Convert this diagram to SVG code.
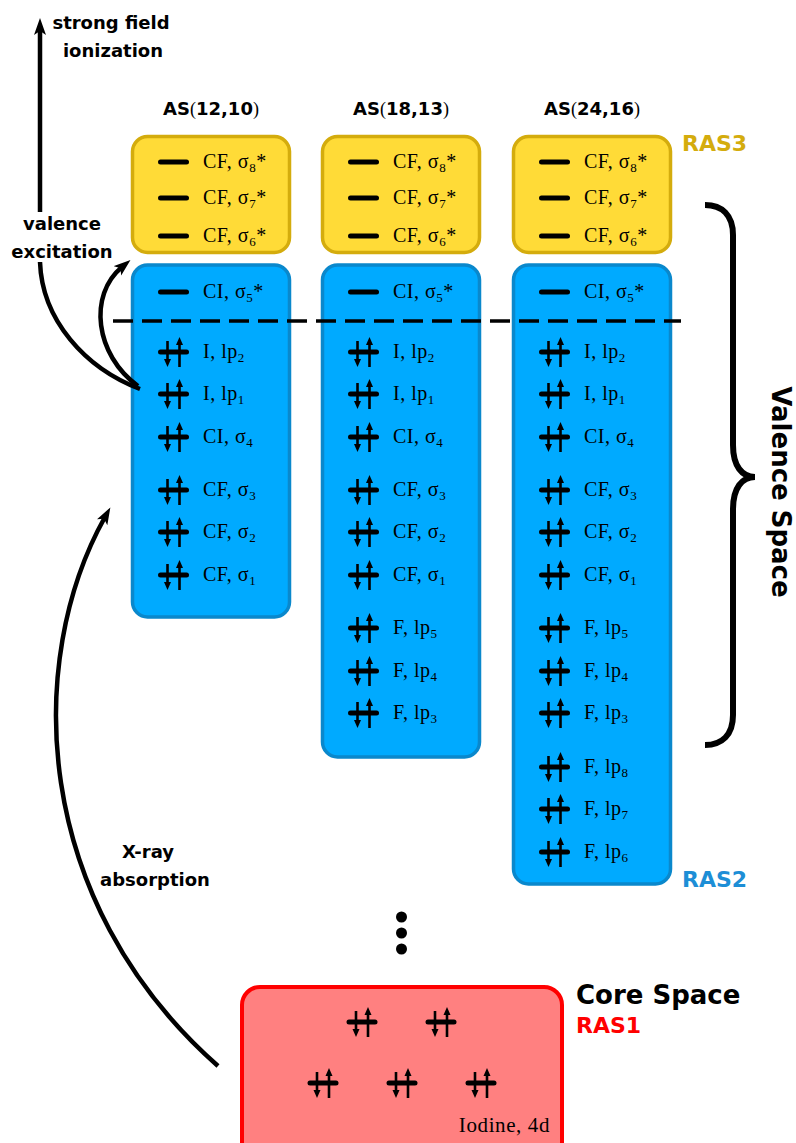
<svg xmlns="http://www.w3.org/2000/svg" xmlns:xlink="http://www.w3.org/1999/xlink" width="796" height="1143" viewBox="0 0 796 1143">
<style>
.ybox{fill:#FFDB37;stroke:#D4AC0D;stroke-width:3.5}
.bbox{fill:#00AAFF;stroke:#0A88CC;stroke-width:3.5}
.rbox{fill:#FF8080;stroke:#FF0000;stroke-width:4}
.lbl{font-family:"Liberation Serif",serif;font-size:20px;fill:#000;letter-spacing:0.5px}
.sub{font-size:13px}
.sans{font-family:"DejaVu Sans",sans-serif;font-weight:bold;fill:#000}
.as{font-size:18px}
.note{font-size:18px}
.ras{font-size:22px}
.conn{fill:none;stroke:#000;stroke-width:4.5}
</style>
<defs>
<marker id="ah" markerUnits="userSpaceOnUse" markerWidth="18" markerHeight="14" refX="6" refY="6" orient="auto" viewBox="0 0 18 14">
<path d="M0,0 L17,6 L0,12 L4,6 z" fill="#000"/>
</marker>
<g id="pair">
<line x1="-13" y1="0" x2="13" y2="0" stroke="#000" stroke-width="5" stroke-linecap="round"/>
<line x1="-6" y1="-11" x2="-6" y2="8" stroke="#000" stroke-width="2.6"/>
<path d="M-9.5,7 L-2.5,7 L-6,15 z" fill="#000"/>
<line x1="6" y1="15" x2="6" y2="-8" stroke="#000" stroke-width="2.6"/>
<path d="M2.5,-7 L9.5,-7 L6,-15 z" fill="#000"/>
</g>
<g id="empty">
<line x1="-13" y1="0" x2="13" y2="0" stroke="#000" stroke-width="5" stroke-linecap="round"/>
</g>
</defs>
<rect width="796" height="1143" fill="#fff"/>

<!-- Column 1: AS(12,10) -->
<g id="as1">
<text class="sans as" x="211" y="115" text-anchor="middle">AS<tspan font-family="Liberation Serif" font-weight="normal">(</tspan>12,10<tspan font-family="Liberation Serif" font-weight="normal">)</tspan></text>
<rect class="ybox" x="132.5" y="136.5" width="157" height="116" rx="15"/>
<rect class="bbox" x="132.5" y="265" width="157" height="352" rx="15"/>
<use xlink:href="#empty" x="173.5" y="162"/><text class="lbl" x="203" y="168">CF, σ<tspan class="sub" dy="4">8</tspan><tspan dy="-4">*</tspan></text>
<use xlink:href="#empty" x="173.5" y="198"/><text class="lbl" x="203" y="204">CF, σ<tspan class="sub" dy="4">7</tspan><tspan dy="-4">*</tspan></text>
<use xlink:href="#empty" x="173.5" y="236"/><text class="lbl" x="203" y="242">CF, σ<tspan class="sub" dy="4">6</tspan><tspan dy="-4">*</tspan></text>
<use xlink:href="#empty" x="173.5" y="292"/><text class="lbl" x="203" y="298">CI, σ<tspan class="sub" dy="4">5</tspan><tspan dy="-4">*</tspan></text>
<use xlink:href="#pair" x="173.5" y="352"/><text class="lbl" x="203" y="358">I, lp<tspan class="sub" dy="4">2</tspan></text>
<use xlink:href="#pair" x="173.5" y="394"/><text class="lbl" x="203" y="400">I, lp<tspan class="sub" dy="4">1</tspan></text>
<use xlink:href="#pair" x="173.5" y="437"/><text class="lbl" x="203" y="443">CI, σ<tspan class="sub" dy="4">4</tspan></text>
<use xlink:href="#pair" x="173.5" y="490"/><text class="lbl" x="203" y="496">CF, σ<tspan class="sub" dy="4">3</tspan></text>
<use xlink:href="#pair" x="173.5" y="532"/><text class="lbl" x="203" y="538">CF, σ<tspan class="sub" dy="4">2</tspan></text>
<use xlink:href="#pair" x="173.5" y="575"/><text class="lbl" x="203" y="581">CF, σ<tspan class="sub" dy="4">1</tspan></text>
</g>

<!-- Column 2: AS(18,13) -->
<g id="as2">
<text class="sans as" x="401" y="115" text-anchor="middle">AS<tspan font-family="Liberation Serif" font-weight="normal">(</tspan>18,13<tspan font-family="Liberation Serif" font-weight="normal">)</tspan></text>
<rect class="ybox" x="322.5" y="136.5" width="157" height="116" rx="15"/>
<rect class="bbox" x="322.5" y="265" width="157" height="492" rx="15"/>
<use xlink:href="#empty" x="363.5" y="162"/><text class="lbl" x="393" y="168">CF, σ<tspan class="sub" dy="4">8</tspan><tspan dy="-4">*</tspan></text>
<use xlink:href="#empty" x="363.5" y="198"/><text class="lbl" x="393" y="204">CF, σ<tspan class="sub" dy="4">7</tspan><tspan dy="-4">*</tspan></text>
<use xlink:href="#empty" x="363.5" y="236"/><text class="lbl" x="393" y="242">CF, σ<tspan class="sub" dy="4">6</tspan><tspan dy="-4">*</tspan></text>
<use xlink:href="#empty" x="363.5" y="292"/><text class="lbl" x="393" y="298">CI, σ<tspan class="sub" dy="4">5</tspan><tspan dy="-4">*</tspan></text>
<use xlink:href="#pair" x="363.5" y="352"/><text class="lbl" x="393" y="358">I, lp<tspan class="sub" dy="4">2</tspan></text>
<use xlink:href="#pair" x="363.5" y="394"/><text class="lbl" x="393" y="400">I, lp<tspan class="sub" dy="4">1</tspan></text>
<use xlink:href="#pair" x="363.5" y="437"/><text class="lbl" x="393" y="443">CI, σ<tspan class="sub" dy="4">4</tspan></text>
<use xlink:href="#pair" x="363.5" y="490"/><text class="lbl" x="393" y="496">CF, σ<tspan class="sub" dy="4">3</tspan></text>
<use xlink:href="#pair" x="363.5" y="532"/><text class="lbl" x="393" y="538">CF, σ<tspan class="sub" dy="4">2</tspan></text>
<use xlink:href="#pair" x="363.5" y="575"/><text class="lbl" x="393" y="581">CF, σ<tspan class="sub" dy="4">1</tspan></text>
<use xlink:href="#pair" x="363.5" y="628"/><text class="lbl" x="393" y="634">F, lp<tspan class="sub" dy="4">5</tspan></text>
<use xlink:href="#pair" x="363.5" y="671"/><text class="lbl" x="393" y="677">F, lp<tspan class="sub" dy="4">4</tspan></text>
<use xlink:href="#pair" x="363.5" y="713"/><text class="lbl" x="393" y="719">F, lp<tspan class="sub" dy="4">3</tspan></text>
</g>

<!-- Column 3: AS(24,16) -->
<g id="as3">
<text class="sans as" x="592" y="115" text-anchor="middle">AS<tspan font-family="Liberation Serif" font-weight="normal">(</tspan>24,16<tspan font-family="Liberation Serif" font-weight="normal">)</tspan></text>
<rect class="ybox" x="513.5" y="136.5" width="157" height="116" rx="15"/>
<rect class="bbox" x="513.5" y="265" width="157" height="619" rx="15"/>
<use xlink:href="#empty" x="554.5" y="162"/><text class="lbl" x="584" y="168">CF, σ<tspan class="sub" dy="4">8</tspan><tspan dy="-4">*</tspan></text>
<use xlink:href="#empty" x="554.5" y="198"/><text class="lbl" x="584" y="204">CF, σ<tspan class="sub" dy="4">7</tspan><tspan dy="-4">*</tspan></text>
<use xlink:href="#empty" x="554.5" y="236"/><text class="lbl" x="584" y="242">CF, σ<tspan class="sub" dy="4">6</tspan><tspan dy="-4">*</tspan></text>
<use xlink:href="#empty" x="554.5" y="292"/><text class="lbl" x="584" y="298">CI, σ<tspan class="sub" dy="4">5</tspan><tspan dy="-4">*</tspan></text>
<use xlink:href="#pair" x="554.5" y="352"/><text class="lbl" x="584" y="358">I, lp<tspan class="sub" dy="4">2</tspan></text>
<use xlink:href="#pair" x="554.5" y="394"/><text class="lbl" x="584" y="400">I, lp<tspan class="sub" dy="4">1</tspan></text>
<use xlink:href="#pair" x="554.5" y="437"/><text class="lbl" x="584" y="443">CI, σ<tspan class="sub" dy="4">4</tspan></text>
<use xlink:href="#pair" x="554.5" y="490"/><text class="lbl" x="584" y="496">CF, σ<tspan class="sub" dy="4">3</tspan></text>
<use xlink:href="#pair" x="554.5" y="532"/><text class="lbl" x="584" y="538">CF, σ<tspan class="sub" dy="4">2</tspan></text>
<use xlink:href="#pair" x="554.5" y="575"/><text class="lbl" x="584" y="581">CF, σ<tspan class="sub" dy="4">1</tspan></text>
<use xlink:href="#pair" x="554.5" y="628"/><text class="lbl" x="584" y="634">F, lp<tspan class="sub" dy="4">5</tspan></text>
<use xlink:href="#pair" x="554.5" y="671"/><text class="lbl" x="584" y="677">F, lp<tspan class="sub" dy="4">4</tspan></text>
<use xlink:href="#pair" x="554.5" y="713"/><text class="lbl" x="584" y="719">F, lp<tspan class="sub" dy="4">3</tspan></text>
<use xlink:href="#pair" x="554.5" y="767"/><text class="lbl" x="584" y="773">F, lp<tspan class="sub" dy="4">8</tspan></text>
<use xlink:href="#pair" x="554.5" y="809"/><text class="lbl" x="584" y="815">F, lp<tspan class="sub" dy="4">7</tspan></text>
<use xlink:href="#pair" x="554.5" y="852"/><text class="lbl" x="584" y="858">F, lp<tspan class="sub" dy="4">6</tspan></text>
</g>

<!-- Occupied / virtual separator -->
<g id="separator">
<line x1="113" y1="321" x2="681" y2="321" stroke="#000" stroke-width="3.5" stroke-dasharray="20 9"/>
</g>

<!-- RAS labels -->
<g id="ras-labels">
<text class="sans ras" x="682" y="151" style="fill:#D4AC0D">RAS3</text>
<text class="sans ras" x="682" y="887" style="fill:#1D8ED6">RAS2</text>
</g>

<!-- Valence space brace -->
<g id="valence-space">
<path d="M705,205 C722,205 733,215 733,235 L733,445 C733,466 742,477 755,477 C742,477 733,488 733,509 L733,715 C733,735 722,745 705,745" fill="none" stroke="#000" stroke-width="6"/>
<text class="sans" font-size="26" transform="translate(782,492) rotate(90)" x="0" y="10" text-anchor="middle">Valence Space</text>
</g>

<!-- Ellipsis -->
<g id="ellipsis">
<circle cx="401.5" cy="917" r="5.5"/>
<circle cx="401.5" cy="933" r="5.5"/>
<circle cx="401.5" cy="949" r="5.5"/>
</g>

<!-- Core space -->
<g id="core">
<rect class="rbox" x="242" y="987" width="320" height="180" rx="18"/>
<use xlink:href="#pair" x="362" y="1022"/>
<use xlink:href="#pair" x="441" y="1022"/>
<use xlink:href="#pair" x="323" y="1083"/>
<use xlink:href="#pair" x="402" y="1083"/>
<use xlink:href="#pair" x="481" y="1083"/>
<text class="lbl" x="550" y="1132" text-anchor="end" style="font-size:21px;letter-spacing:0.6px">Iodine, 4d</text>
<text class="sans" font-size="26" x="576" y="1004">Core Space</text>
<text class="sans ras" x="576" y="1033" style="fill:#FF0000">RAS1</text>
</g>

<!-- Connectors -->
<g id="connectors">
<path class="conn" d="M140,389 C85,368 42,320 40,262 M40,212 L40,29" marker-end="url(#ah)"/>
<path class="conn" d="M138,386 C95,355 88,295 122,267" marker-end="url(#ah)"/>
<path class="conn" d="M218,1066 C30,900 25,660 105,517" marker-end="url(#ah)"/>
</g>

<!-- Connector labels -->
<g id="conn-labels">
<text class="sans note" x="111" y="29" text-anchor="middle">strong field</text>
<text class="sans note" x="113" y="57" text-anchor="middle">ionization</text>
<text class="sans note" x="62" y="230" text-anchor="middle">valence</text>
<text class="sans note" x="62" y="258" text-anchor="middle">excitation</text>
<text class="sans note" x="148" y="858" text-anchor="middle">X-ray</text>
<text class="sans note" x="155" y="886" text-anchor="middle">absorption</text>
</g>
</svg>
